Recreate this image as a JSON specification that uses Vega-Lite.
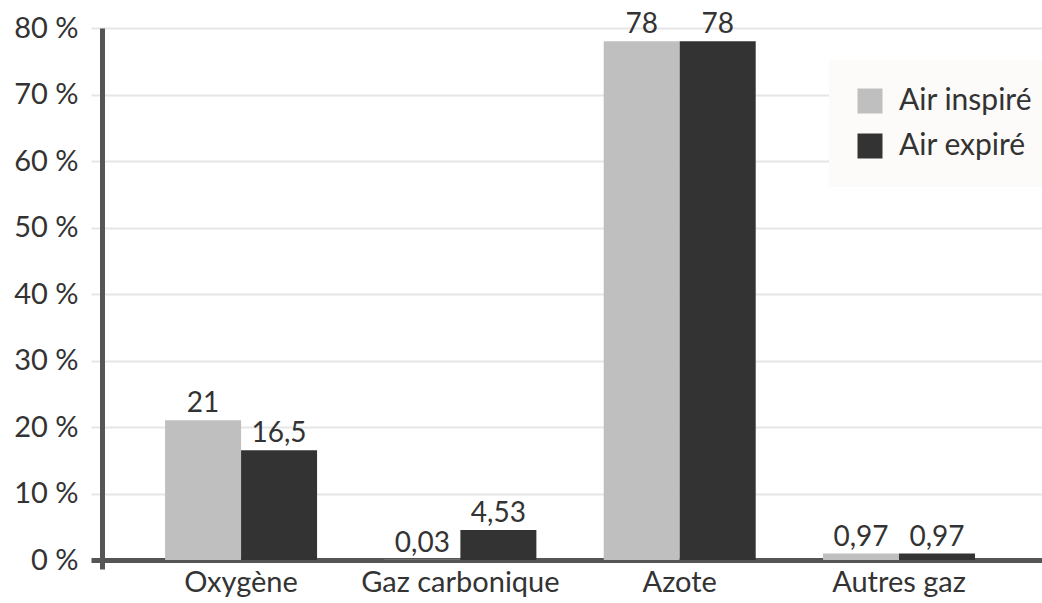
{
  "$schema": "https://vega.github.io/schema/vega-lite/v6.json",
  "width": 940,
  "height": 541,
  "autosize": {"type": "none"},
  "padding": {"left": 102, "top": 28, "right": 0, "bottom": 34},
  "background": "#ffffff",
  "config": {
    "font": "Lato",
    "view": {"stroke": null},
    "axis": {"labelFont": "Lato", "labelColor": "#333333"}
  },
  "data": {
    "values": [
      {"gaz": "Oxygène", "serie": "Air inspiré", "valeur": 21, "etiquette": "21"},
      {"gaz": "Oxygène", "serie": "Air expiré", "valeur": 16.5, "etiquette": "16,5"},
      {"gaz": "Gaz carbonique", "serie": "Air inspiré", "valeur": 0.03, "etiquette": "0,03"},
      {"gaz": "Gaz carbonique", "serie": "Air expiré", "valeur": 4.53, "etiquette": "4,53"},
      {"gaz": "Azote", "serie": "Air inspiré", "valeur": 78, "etiquette": "78"},
      {"gaz": "Azote", "serie": "Air expiré", "valeur": 78, "etiquette": "78"},
      {"gaz": "Autres gaz", "serie": "Air inspiré", "valeur": 0.97, "etiquette": "0,97"},
      {"gaz": "Autres gaz", "serie": "Air expiré", "valeur": 0.97, "etiquette": "0,97"}
    ]
  },
  "encoding": {
    "x": {
      "field": "gaz",
      "type": "nominal",
      "sort": ["Oxygène", "Gaz carbonique", "Azote", "Autres gaz"],
      "scale": {"paddingInner": 0.307, "paddingOuter": 0.2965, "align": 0.485},
      "axis": {
        "title": null,
        "labelAngle": 0,
        "labelFontSize": 29,
        "labelPadding": 8,
        "labelLimit": 0,
        "ticks": false,
        "tickSize": 0,
        "offset": -9,
        "domainColor": "#555555",
        "domainWidth": 5,
        "grid": false
      }
    },
    "xOffset": {"field": "serie", "type": "nominal", "sort": ["Air inspiré", "Air expiré"], "scale": {"paddingInner": 0, "paddingOuter": 0}},
    "y": {
      "field": "valeur",
      "type": "quantitative",
      "scale": {"domain": [-1.35, 80], "nice": false, "zero": false},
      "axis": {
        "title": null,
        "values": [0, 10, 20, 30, 40, 50, 60, 70, 80],
        "labelExpr": "datum.value + ' %'",
        "labelFontSize": 29,
        "labelPadding": 13,
        "tickSize": 11,
        "tickColor": {"condition": {"test": "datum.value === 0", "value": "#555555"}, "value": "#e6e6e6"},
        "tickWidth": {"condition": {"test": "datum.value === 0", "value": 5}, "value": 2},
        "grid": true,
        "gridColor": "#e6e6e6",
        "gridWidth": 2,
        "domainColor": "#555555",
        "domainWidth": 5
      }
    }
  },
  "layer": [
    {
      "mark": {"type": "bar"},
      "encoding": {
        "y2": {"datum": 0},
        "color": {
          "field": "serie",
          "type": "nominal",
          "scale": {"domain": ["Air inspiré", "Air expiré"], "range": ["#bfbfbf", "#333333"]},
          "legend": {
            "title": null,
            "orient": "none",
            "legendX": 727,
            "legendY": 32,
            "fillColor": "#fcfbf9",
            "padding": 26,
            "symbolType": "square",
            "symbolSize": 625,
            "symbolStrokeWidth": 0,
            "symbolOpacity": 1,
            "labelFontSize": 30,
            "labelFont": "Lato",
            "labelColor": "#333333",
            "labelOffset": 14,
            "labelLimit": 0,
            "rowPadding": 15
          }
        }
      }
    },
    {
      "mark": {"type": "text", "fontSize": 28, "color": "#333333", "baseline": "alphabetic", "dy": -8, "font": "Lato"},
      "encoding": {
        "text": {"field": "etiquette"}
      }
    }
  ]
}
